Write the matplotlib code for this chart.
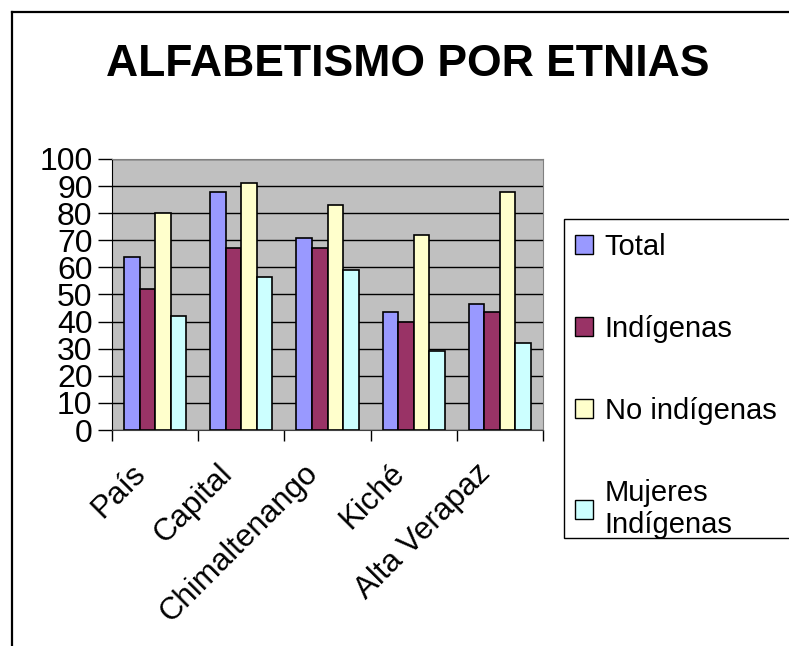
import matplotlib
matplotlib.use("Agg")
import matplotlib.pyplot as plt
import matplotlib.transforms as mtransforms
import numpy as np
from matplotlib.lines import Line2D
from matplotlib.patches import Patch, Rectangle

# data
regions = ["País", "Capital", "Chimaltenango", "Kiché", "Alta Verapaz"]
total = [64, 88, 71, 43.5, 46.5]
indigenas = [52, 67, 67, 40, 43.5]
no_indigenas = [80, 91, 83, 72, 88]
mujeres_indigenas = [42, 56.5, 59, 29, 32]

series = [total, indigenas, no_indigenas, mujeres_indigenas]
names = ["Total", "Indígenas", "No indígenas", "Mujeres\nIndígenas"]
colors = ["#9999FF", "#993366", "#FFFFCC", "#CCFFFF"]

plt.rcParams["font.family"] = ["Liberation Sans", "DejaVu Sans"]

fig = plt.figure(figsize=(7.89, 6.46), dpi=100)
ax = fig.add_axes([112 / 789, 1 - 430 / 646, 431 / 789, 271 / 646])

x = np.arange(len(regions))
width = 0.18
for i, (vals, col) in enumerate(zip(series, colors)):
    ax.bar(x + (i - 1.5) * width, vals, width=width, color=col,
           edgecolor="black", linewidth=1.2, zorder=3)

ax.set_facecolor("#C0C0C0")
ax.set_xlim(-0.5, len(regions) - 0.5)
ax.set_ylim(0, 100)
ax.set_yticks(range(0, 101, 10))
ax.grid(axis="y", color="black", linewidth=1, zorder=1)
ax.tick_params(axis="y", length=10, width=1, labelsize=23, pad=4)

ax.set_xticks(x)
ax.set_xticklabels(regions, rotation=45, ha="right", va="center",
                   rotation_mode="anchor", fontsize=22.5)
ax.tick_params(axis="x", which="major", length=0, pad=18)
# nudge category labels so they end just left of / below the group centre
shift = mtransforms.ScaledTranslation(-14 / 100, -14 / 100, fig.dpi_scale_trans)
for lbl in ax.get_xticklabels():
    lbl.set_transform(lbl.get_transform() + shift)
ax.set_xticks(np.arange(-0.5, len(regions), 1), minor=True)
ax.tick_params(axis="x", which="minor", length=8, width=1)

for s in ["top", "right"]:
    ax.spines[s].set_color("#808080")
ax.spines["left"].set_color("black")
ax.spines["bottom"].set_color("#404040")

fig.text(408 / 789, 1 - 64 / 646, "ALFABETISMO POR ETNIAS", ha="center",
         va="center", fontsize=32, fontweight="bold")

# legend box runs off the right edge, so draw the frame by hand
fig.add_artist(Rectangle((564 / 789, 1 - 538 / 646), 0.5, 319 / 646,
                         transform=fig.transFigure, facecolor="white",
                         edgecolor="black", linewidth=1, zorder=0))
handles = [Patch(facecolor=c, edgecolor="black", linewidth=1) for c in colors]
leg = fig.legend(handles, names, loc="upper left",
                 bbox_to_anchor=(575 / 789, 1 - 233 / 646), fontsize=21,
                 frameon=False, handlelength=0.62, handleheight=0.62,
                 handletextpad=0.4, labelspacing=1.85, borderpad=0,
                 borderaxespad=0)

# outer chart border
fig.add_artist(Line2D([12 / 789, 1], [1 - 12 / 646, 1 - 12 / 646],
                      color="black", linewidth=1.6))
fig.add_artist(Line2D([12 / 789, 12 / 789], [0, 1 - 12 / 646],
                      color="black", linewidth=1.6))

fig.savefig("out.png", dpi=100)
